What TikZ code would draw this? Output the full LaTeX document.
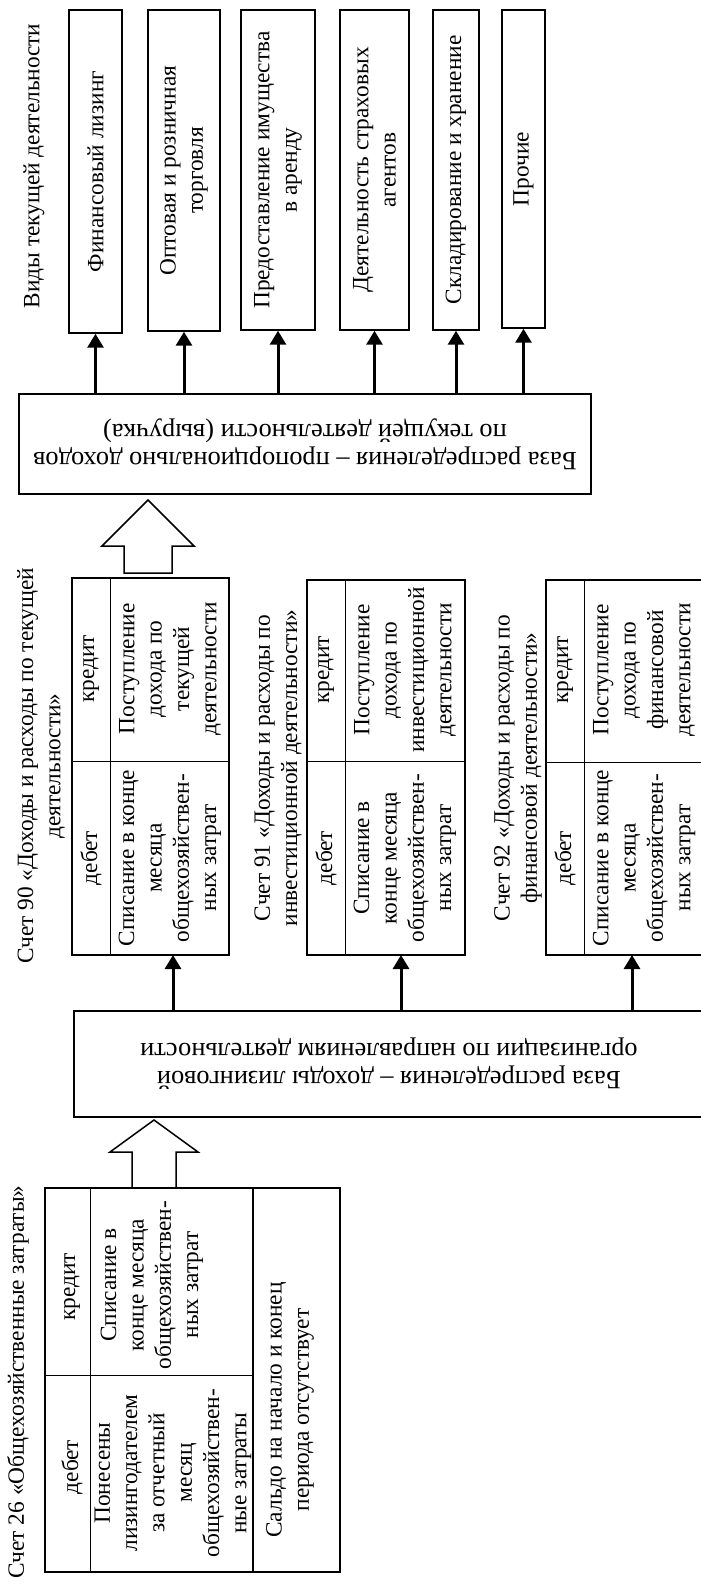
\documentclass[tikz,border=0pt]{standalone}
\usepackage{fontspec}
\setmainfont{Liberation Serif}
\usetikzlibrary{arrows.meta}
\newcommand\pxu{0.6pt}

\begin{document}
\begin{tikzpicture}[x=\pxu,y=-\pxu,
  font=\fontsize{14pt}{16.4pt}\selectfont,
  kind/.style 2 args={draw,line width=0.9pt,rotate=90,align=center,
    minimum width=#1*\pxu,minimum height=#2*\pxu,inner sep=0pt},
  base/.style 2 args={draw,line width=0.9pt,rotate=180,align=center,
    minimum width=#1*\pxu,minimum height=#2*\pxu,inner sep=0pt,
    font=\fontsize{15.8pt}{16.8pt}\selectfont},
  acct/.style={draw,line width=1.2pt,inner sep=0pt},
  lbl/.style={rotate=90,align=center,inner sep=0pt},
  thin/.style={line width=0.6pt},
  arr/.style={line width=1.8pt,-{Triangle[length=8.4pt,width=9.6pt]}},
  hollow/.style={line width=0.9pt,line join=miter}]
  \useasboundingbox (0,0) rectangle (701,1595);
  \clip (0,0) rectangle (701,1595);

  % виды текущей деятельности
  \node[lbl] (vid) at (34,166) {Виды текущей деятельности};
  \node[kind={323}{53}] (k1) at (95.5,171.5) {Финансовый лизинг};
  \node[kind={321}{72}] (k2) at (184,170.5) {Оптовая и розничная\\торговля};
  \node[kind={320}{74}] (k3) at (278,170) {Предоставление имущества\\в аренду};
  \node[kind={320}{69}] (k4) at (374.5,170) {Деятельность страховых\\агентов};
  \node[kind={320}{46}] (k5) at (456,170) {Складирование и хранение};
  \node[kind={318}{43}] (k6) at (523.5,169) {Прочие};

  \node[base={572}{100}] (b1) at (305,444)
    {База распределения – пропорционально доходов\\по текущей деятельности (выручка)};
  \foreach \i in {1,...,6}
    \draw[arr] (b1.south -| k\i.west) -- (k\i.west);

  \coordinate (up1) at (148,500);
  \draw[hollow] (up1) --++(46,46) --++(-22,0) --++(0,27) --++(-48,0)
    --++(0,-27) --++(-22,0) -- cycle;

  % счета 90, 91, 92
  \node[lbl] (c90) at (41,766) {Счет 90 «Доходы и расходы по текущей\\деятельности»};
  \node[acct,minimum width=157*\pxu,minimum height=377*\pxu] (a90) at (150.5,766.5) {};
  \draw[thin] (110,578) -- (110,955) (72,761) -- (229,761);
  \node[lbl] (kr90) at (91,669) {кредит};
  \node[lbl] (db90) at (91,858) {дебет};
  \node[lbl] (in90) at (170,669) {Поступление\\дохода по\\текущей\\деятельности};
  \node[lbl] (out90) at (170,858) {Списание в конце\\месяца\\общехозяйствен-\\ных затрат};

  \node[lbl] (c91) at (278,768) {Счет 91 «Доходы и расходы по\\инвестиционной деятельности»};
  \node[acct,minimum width=158*\pxu,minimum height=375*\pxu] (a91) at (386,767.5) {};
  \draw[thin] (345,580) -- (345,955) (307,761) -- (465,761);
  \node[lbl] (kr91) at (326,670) {кредит};
  \node[lbl] (db91) at (326,858) {дебет};
  \node[lbl] (in91) at (405,670) {Поступление\\дохода по\\инвестиционной\\деятельности};
  \node[lbl] (out91) at (405,858) {Списание в\\конце месяца\\общехозяйствен-\\ных затрат};

  \node[lbl] (c92) at (518,768) {Счет 92 «Доходы и расходы по\\финансовой деятельности»};
  \node[acct,minimum width=158*\pxu,minimum height=375*\pxu] (a92) at (625,767.5) {};
  \draw[thin] (584,580) -- (584,955) (546,762) -- (704,762);
  \node[lbl] (kr92) at (565,670) {кредит};
  \node[lbl] (db92) at (565,858) {дебет};
  \node[lbl] (in92) at (644,670) {Поступление\\дохода по\\финансовой\\деятельности};
  \node[lbl] (out92) at (644,858) {Списание в конце\\месяца\\общехозяйствен-\\ных затрат};

  \node[base={630}{106}] (b2) at (389,1064)
    {База распределения – доходы лизинговой\\организации по направлениям деятельности};
  \coordinate (i90) at (173,955);
  \coordinate (i91) at (401,955);
  \coordinate (i92) at (632,955);
  \foreach \a in {90,91,92}
    \draw[arr] (b2.south -| i\a) -- (i\a);

  \coordinate (up2) at (154,1120);
  \draw[hollow] (up2) --++(44,32) --++(-22,0) --++(0,36) --++(-44,0)
    --++(0,-36) --++(-22,0) -- cycle;

  % счет 26
  \node[lbl] (c26) at (18,1382) {Счет 26 «Общехозяйственные затраты»};
  \node[acct,minimum width=295*\pxu,minimum height=384*\pxu] (a26) at (192.5,1380) {};
  \draw[thin] (90,1188) -- (90,1572) (45,1375) -- (253,1375);
  \draw[line width=1.2pt] (253,1188) -- (253,1572);
  \node[lbl] (kr26) at (72,1287) {кредит};
  \node[lbl] (db26) at (72,1467) {дебет};
  \node[lbl] (out26) at (152,1285) {Списание в\\конце месяца\\общехозяйствен-\\ных затрат};
  \node[lbl] (in26) at (173,1473) {Понесены\\лизингодателем\\за отчетный\\месяц\\общехозяйствен-\\ные затраты};
  \node[lbl] (sal26) at (290,1410) {Сальдо на начало и конец\\периода отсутствует};
\end{tikzpicture}
\end{document}
